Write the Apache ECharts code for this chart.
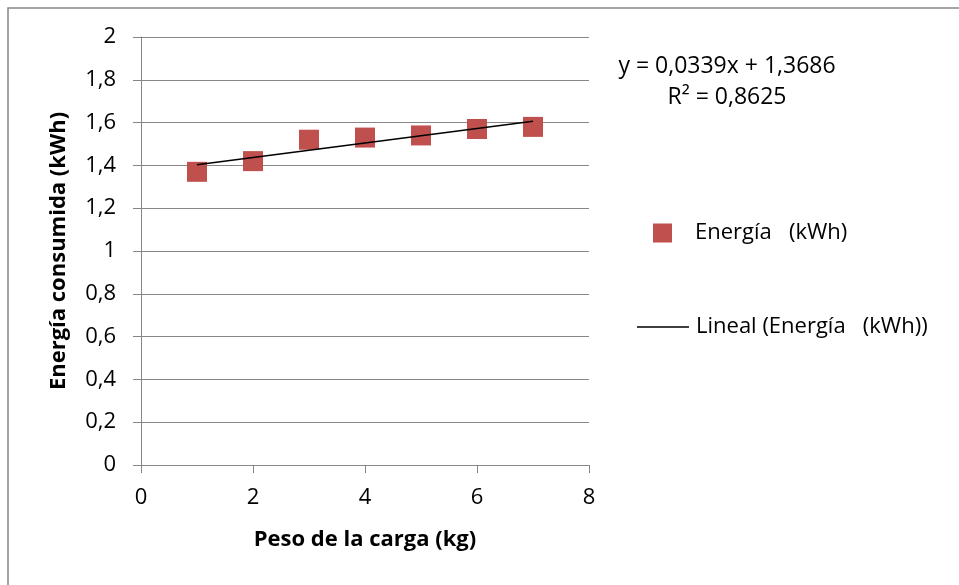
<!DOCTYPE html>
<html>
<head>
<meta charset="utf-8">
<script src="https://cdn.jsdelivr.net/npm/echarts@6/dist/echarts.min.js"></script>
<style>
html,body{margin:0;padding:0;background:#fff;}
#chart{width:959px;height:585px;}
</style>
</head>
<body>
<div id="chart"></div>
<script>
// Data
const pesoKg = [1, 2, 3, 4, 5, 6, 7];
const energiaKWh = [1.37, 1.42, 1.52, 1.53, 1.54, 1.57, 1.58];
const trendSlope = 0.0339;
const trendIntercept = 1.3686;
const trendR2 = '0,8625';
const seriesName = 'Energía   (kWh)';
const trendName = 'Lineal (Energía   (kWh))';
const xAxisTitle = 'Peso de la carga (kg)';
const yAxisTitle = 'Energía consumida (kWh)';

const FONT = 'Open Sans';
const FS = 22;
const GRAY = '#868686';

const points = pesoKg.map((x, i) => [x, energiaKWh[i]]);
const xFirst = pesoKg[0], xLast = pesoKg[pesoKg.length - 1];
const trendLine = [[xFirst, trendSlope * xFirst + trendIntercept], [xLast, trendSlope * xLast + trendIntercept]];
const fmt = v => String(Math.round(v * 10) / 10).replace('.', ',');

const chart = echarts.init(document.getElementById('chart'), null, {renderer: 'canvas'});
chart.setOption({
  animation: false,
  backgroundColor: '#fff',
  textStyle: {fontFamily: FONT},
  grid: {left: 141, right: 370, top: 37, bottom: 120, containLabel: false},
  xAxis: {
    type: 'value', min: 0, max: 8, interval: 2,
    name: xAxisTitle, nameLocation: 'middle', nameGap: 64,
    nameTextStyle: {fontFamily: FONT, fontSize: FS, fontWeight: 'bold', color: '#000'},
    axisLine: {show: true, onZero: false, lineStyle: {color: GRAY, width: 1}},
    axisTick: {show: true, length: 8, lineStyle: {color: GRAY}},
    axisLabel: {fontFamily: FONT, fontSize: FS, color: '#000', margin: 22},
    splitLine: {show: false}
  },
  yAxis: {
    type: 'value', min: 0, max: 2, interval: 0.2,
    name: yAxisTitle, nameLocation: 'middle', nameGap: 71, nameRotate: 90,
    nameTextStyle: {fontFamily: FONT, fontSize: FS, fontWeight: 'bold', color: '#000'},
    axisLine: {show: true, lineStyle: {color: GRAY, width: 1}},
    axisTick: {show: true, length: 8, lineStyle: {color: GRAY}},
    axisLabel: {fontFamily: FONT, fontSize: FS, color: '#000', margin: 25, formatter: fmt},
    splitLine: {show: true, lineStyle: {color: GRAY, width: 1}}
  },
  legend: [
    {
      data: [{name: seriesName, icon: 'rect'}],
      left: 648, top: 217, itemWidth: 19, itemHeight: 19,
      textStyle: {fontFamily: FONT, fontSize: FS, color: '#000', padding: [0, 0, 0, 18]}
    },
    {
      data: [{name: trendName, icon: 'rect'}],
      left: 632, top: 311, itemWidth: 52, itemHeight: 1.5,
      textStyle: {fontFamily: FONT, fontSize: FS, color: '#000', padding: [0, 0, 0, 2]}
    }
  ],
  graphic: [
    {type: 'rect', shape: {x: 8, y: 8, width: 1200, height: 1200}, style: {fill: 'none', stroke: GRAY, lineWidth: 1.5}, silent: true, z: -1},
    {type: 'text', x: 727, y: 66, style: {text: 'y = ' + String(trendSlope).replace('.', ',') + 'x + ' + String(trendIntercept).replace('.', ','), font: '23px "' + FONT + '"', fill: '#000', align: 'center', verticalAlign: 'middle'}},
    {type: 'text', x: 727, y: 97, style: {text: 'R² = ' + trendR2, font: '23px "' + FONT + '"', fill: '#000', align: 'center', verticalAlign: 'middle'}}
  ],
  series: [
    {
      name: seriesName, type: 'scatter', data: points,
      symbol: 'rect', symbolSize: 20,
      itemStyle: {color: '#C0504D', opacity: 1}, z: 3
    },
    {
      name: trendName, type: 'line', data: trendLine,
      symbol: 'none', lineStyle: {color: '#000', width: 1.5},
      itemStyle: {color: '#000'}, z: 4
    }
  ]
});
</script>
</body>
</html>
